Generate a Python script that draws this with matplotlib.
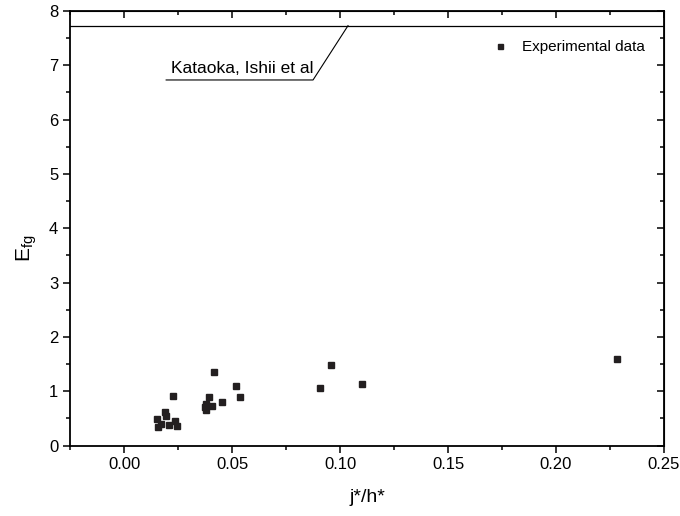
import matplotlib
matplotlib.use('Agg')
import matplotlib.pyplot as plt
from matplotlib.ticker import MultipleLocator

plt.rcParams['font.family'] = ['Liberation Sans', 'DejaVu Sans']

# experimental points (j*/h*, E_fg)
jh = [0.0418, 0.0228, 0.0520, 0.0536, 0.0394, 0.0455, 0.0409, 0.0380,
      0.0376, 0.0378, 0.0190, 0.0194, 0.0154, 0.0236, 0.0170, 0.0157,
      0.0210, 0.0247, 0.0958, 0.0909, 0.1103, 0.2284]
efg = [1.35, 0.91, 1.10, 0.90, 0.89, 0.80, 0.72, 0.76,
       0.70, 0.65, 0.62, 0.55, 0.49, 0.45, 0.39, 0.335,
       0.37, 0.365, 1.49, 1.06, 1.13, 1.59]

# Kataoka, Ishii et al correlation (constant)
kat_x = [-0.025, 0.25]
kat_y = [7.73, 7.73]

# label leader line
lead_x = [0.0195, 0.0875, 0.1037]
lead_y = [6.73, 6.73, 7.73]

fig = plt.figure(figsize=(6.8, 5.16), dpi=100)
ax = fig.add_axes([0.103, 0.1366, 0.8735, 0.8421])

ax.plot(kat_x, kat_y, color='black', lw=0.9)
ax.plot(jh, efg, 's', color='#231f20', markersize=4.5, label='Experimental data')

ax.set_xlim(-0.025, 0.25)
ax.set_ylim(0, 8)
ax.xaxis.set_major_locator(MultipleLocator(0.05))
ax.xaxis.set_minor_locator(MultipleLocator(0.025))
ax.yaxis.set_major_locator(MultipleLocator(1))
ax.yaxis.set_minor_locator(MultipleLocator(0.5))
ax.set_xticks([0.0, 0.05, 0.10, 0.15, 0.20, 0.25])
ax.set_xticklabels(['0.00', '0.05', '0.10', '0.15', '0.20', '0.25'])

for s in ax.spines.values():
    s.set_linewidth(1.3)

ax.tick_params(which='both', direction='out', top=False, right=False, labelsize=12, width=1.1)
ax.tick_params(which='major', length=5)
ax.tick_params(which='minor', length=3)

# inward ticks on top and right
axt = ax.secondary_xaxis('top')
axt.xaxis.set_major_locator(MultipleLocator(0.05))
axt.xaxis.set_minor_locator(MultipleLocator(0.025))
axt.tick_params(which='both', direction='in', labeltop=False, width=1.1)
axt.tick_params(which='major', length=5)
axt.tick_params(which='minor', length=3)
axr = ax.secondary_yaxis('right')
axr.yaxis.set_major_locator(MultipleLocator(1))
axr.yaxis.set_minor_locator(MultipleLocator(0.5))
axr.tick_params(which='both', direction='in', labelright=False, width=1.1)
axr.tick_params(which='major', length=5)
axr.tick_params(which='minor', length=3)

ax.set_xlabel('j*/h*', fontsize=14, labelpad=12)
ax.set_ylabel('E$_{\\mathregular{fg}}$', fontsize=15)
ax.yaxis.set_label_coords(-0.052, 0.455)

ax.text(0.0218, 6.86, 'Kataoka, Ishii et al', fontsize=12.5, va='baseline', ha='left')
ax.plot(lead_x, lead_y, color='black', lw=0.8)

ax.legend(loc='center right', bbox_to_anchor=(0.968, 0.917), frameon=False,
          fontsize=11, handlelength=2.0, handletextpad=0.45, borderpad=0,
          borderaxespad=0, markerscale=0.8)

plt.savefig('out.png')
